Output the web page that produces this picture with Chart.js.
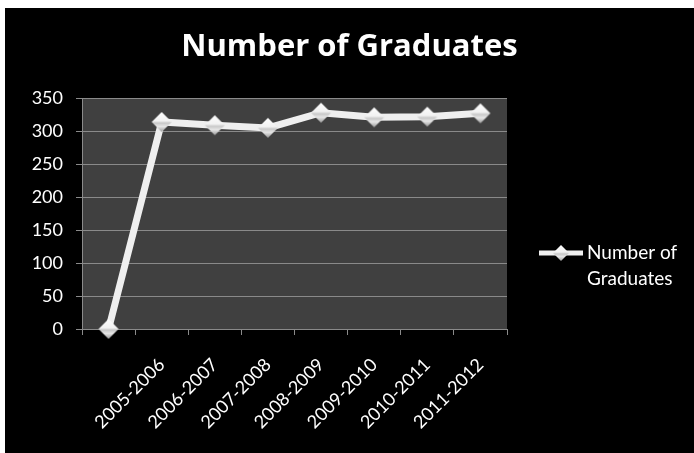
<!DOCTYPE html>
<html lang="en">

<head>
  <meta charset="UTF-8" />
  <title>Number of Graduates</title>
  <style>
    html, body { margin: 0; padding: 0; background: #fff; }
    #wrap { position: absolute; left: 5px; top: 8px; width: 689px; height: 445px; background: #000; }
  </style>
</head>

<body>
  <div id="wrap">
    <canvas id="myChart" width="689" height="445"></canvas>
  </div>

  <script src="https://cdn.jsdelivr.net/npm/chart.js"></script>

  <script>
    const years = ["", "2005-2006", "2006-2007", "2007-2008", "2008-2009", "2009-2010", "2010-2011", "2011-2012"];
    const graduates = [0, 314, 309, 305, 328, 321, 322, 327];
    const yTicks = [0, 50, 100, 150, 200, 250, 300, 350];
    const seriesName = ["Number of", "Graduates"];

    // shaded diamond marker, drawn once and reused as pointStyle
    function makeDiamond(size) {
      const c = document.createElement("canvas");
      c.width = size;
      c.height = size;
      const g = c.getContext("2d");
      const m = size / 2;
      g.beginPath();
      g.moveTo(m, 1);
      g.lineTo(size - 1, m);
      g.lineTo(m, size - 1);
      g.lineTo(1, m);
      g.closePath();
      const grad = g.createLinearGradient(0, 0, 0, size);
      grad.addColorStop(0, "#ffffff");
      grad.addColorStop(0.45, "#f2f2f2");
      grad.addColorStop(0.55, "#c8c8c8");
      grad.addColorStop(0.7, "#e6e6e6");
      grad.addColorStop(1, "#8c8c8c");
      g.fillStyle = grad;
      g.fill();
      return c;
    }
    const bigDiamond = makeDiamond(22);
    const smallDiamond = makeDiamond(18);

    const plotBg = {
      id: "plotBg",
      beforeDraw(chart) {
        const a = chart.chartArea;
        const ctx = chart.ctx;
        ctx.save();
        ctx.fillStyle = "#404040";
        ctx.fillRect(a.left, a.top, a.right - a.left, a.bottom - a.top);
        ctx.restore();
      },
    };

    // legend on the right with wrapped text
    const sideLegend = {
      id: "sideLegend",
      afterDraw(chart) {
        const ctx = chart.ctx;
        const x0 = chart.chartArea.right + 32;
        const y0 = 245;
        ctx.save();
        ctx.strokeStyle = "#efefef";
        ctx.lineWidth = 5;
        ctx.beginPath();
        ctx.moveTo(x0, y0);
        ctx.lineTo(x0 + 44, y0);
        ctx.stroke();
        ctx.drawImage(smallDiamond, x0 + 22 - 9, y0 - 9);
        ctx.fillStyle = "#fff";
        ctx.font = "19px Lato";
        ctx.textBaseline = "middle";
        ctx.textAlign = "left";
        ctx.fillText(seriesName[0], x0 + 48, y0);
        ctx.fillText(seriesName[1], x0 + 48, y0 + 26);
        ctx.restore();
      },
    };

    new Chart(document.getElementById("myChart"), {
      type: "line",
      data: {
        labels: years,
        datasets: [
          {
            label: seriesName.join(" "),
            data: graduates,
            borderColor: "#efefef",
            borderWidth: 7,
            tension: 0,
            pointStyle: bigDiamond,
            pointRadius: 11,
            clip: false,
          },
        ],
      },
      options: {
        responsive: false,
        animation: false,
        layout: { padding: 0 },
        plugins: {
          legend: { display: false },
          tooltip: { enabled: false },
          title: {
            display: true,
            text: "Number of Graduates",
            color: "#fff",
            font: { family: "Open Sans", size: 31, weight: "bold", lineHeight: 1.2 },
            padding: { top: 21, bottom: 32 },
          },
        },
        scales: {
          x: {
            offset: true,
            grid: { offset: true, drawOnChartArea: false, color: "#8a8a8a", tickLength: 6 },
            border: { color: "#8a8a8a" },
            ticks: {
              color: "#fff",
              font: { family: "Lato", size: 18 },
              minRotation: 45,
              maxRotation: 45,
              autoSkip: false,
              padding: 19,
            },
            afterFit(s) { s.height = 124; },
          },
          y: {
            min: 0,
            max: 350,
            grid: { color: "#8a8a8a", tickLength: 6 },
            border: { color: "#8a8a8a" },
            afterBuildTicks(s) { s.ticks = yTicks.map((v) => ({ value: v })); },
            ticks: { color: "#fff", font: { family: "Lato", size: 18 }, padding: 13 },
            afterFit(s) { s.width = 77; },
          },
          // empty right-hand axis that only keeps room for the legend
          side: {
            position: "right",
            grid: { display: false, drawTicks: false },
            border: { display: false },
            ticks: { display: false },
            afterFit(s) { s.width = 187; },
          },
        },
      },
      plugins: [plotBg, sideLegend],
    });
  </script>
</body>

</html>
